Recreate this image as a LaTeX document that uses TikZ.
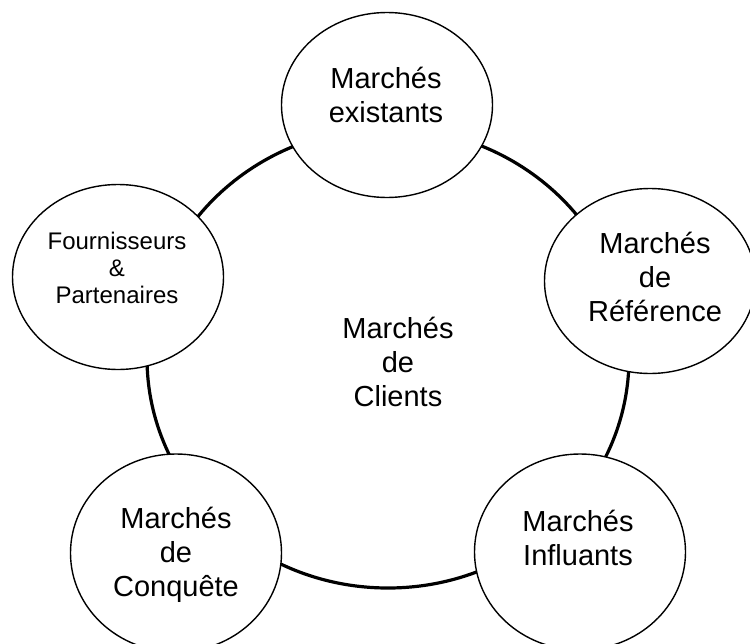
\documentclass[tikz,border=0pt]{standalone}
\usepackage{fontspec}
\setmainfont{Liberation Sans}
\usetikzlibrary{shapes.geometric}
\begin{document}
\begin{tikzpicture}[x=0.5pt,y=-0.5pt,
    market/.style={draw,ellipse,fill=white,line width=.7pt,minimum width=105.5pt,minimum height=92.5pt,inner sep=0pt},
    lbl/.style={align=center,inner sep=0pt,font=\fontsize{14.5}{17}\selectfont},
    smalllbl/.style={align=center,inner sep=0pt,font=\fontsize{12}{13.5}\selectfont}]
    \clip (0,0) rectangle (750,643);
    \node[draw,ellipse,line width=1.6pt,minimum width=241pt,minimum height=230pt,inner sep=0pt] (clients) at (388,358) {};
    \node[lbl] (clientstext) at (398,362) {Marchés\\de\\Clients};
    \node[market] (existants) at (387,105) {};
    \node[market] (reference) at (650,281) {};
    \node[market,minimum height=98pt] (influants) at (580,552) {};
    \node[market,minimum height=99pt] (conquete) at (176,553) {};
    \node[market] (fournisseurs) at (118,277) {};
    \node[lbl] (existantstext) at (386,95) {Marchés\\existants};
    \node[lbl] (referencetext) at (655,277) {Marchés\\de\\Référence};
    \node[lbl] (influantstext) at (578,538) {Marchés\\Influants};
    \node[lbl] (conquetetext) at (176,555) {Marchés\\de\\Conquête};
    \node[smalllbl] (fournisseurstext) at (117,268) {Fournisseurs\\\&\\Partenaires};
\end{tikzpicture}
\end{document}
